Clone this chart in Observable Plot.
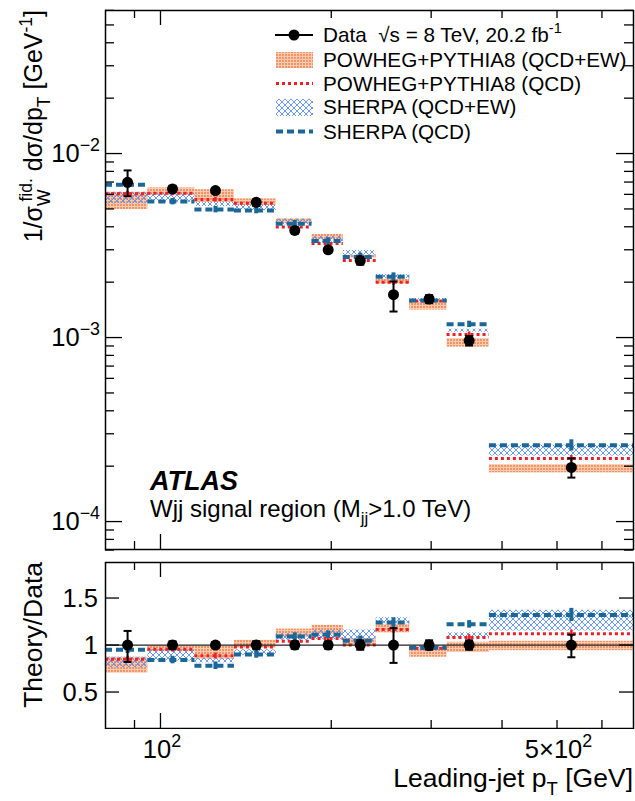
<!DOCTYPE html>
<html><head><meta charset="utf-8">
<script src="https://cdn.jsdelivr.net/npm/d3@7"></script>
<script src="https://cdn.jsdelivr.net/npm/@observablehq/plot@0.6"></script>
<style>
body{margin:0;background:#fff;}
#wrap{position:relative;width:635px;height:801px;font-family:"Liberation Sans",Arial,Helvetica,sans-serif;overflow:hidden;}
#wrap > svg{position:absolute;left:0;}
text{white-space:pre;}
</style></head><body><div id="wrap"></div>
<script>
// ---------- data ----------
const binLo     = [80, 95, 115, 135, 160, 185, 210, 240, 275, 320, 380];
const binHi     = [95, 115, 135, 160, 185, 210, 240, 275, 320, 380, 682];
const binCenter = [87.5, 105, 125, 147.5, 172.5, 197.5, 225, 257.5, 297.5, 350, 530];

// upper panel: 1/sigma dsigma/dpT [GeV^-1]
const dataVal    = [6.98e-3, 6.42e-3, 6.29e-3, 5.43e-3, 3.82e-3, 3.00e-3, 2.62e-3, 1.71e-3, 1.62e-3, 9.63e-4, 1.97e-4];
const dataErrUp  = [0.16, 0.04, 0.03, 0.04, 0.04, 0.04, 0.05, 0.18, 0.05, 0.06, 0.12];
const dataErrDn  = [0.16, 0.04, 0.03, 0.04, 0.04, 0.04, 0.05, 0.19, 0.05, 0.06, 0.12];
const powhegEwLo = [4.96e-3, 5.91e-3, 5.43e-3, 5.22e-3, 4.16e-3, 3.40e-3, 2.70e-3, 1.96e-3, 1.41e-3, 8.87e-4, 1.84e-4];
const powhegEwHi = [6.16e-3, 6.51e-3, 6.36e-3, 5.67e-3, 4.42e-3, 3.63e-3, 2.80e-3, 2.07e-3, 1.56e-3, 9.87e-4, 2.04e-4];
const powhegQcd  = [6.05e-3, 6.09e-3, 5.62e-3, 5.37e-3, 3.99e-3, 3.24e-3, 2.62e-3, 2.00e-3, 1.58e-3, 1.04e-3, 2.20e-4];
const powhegQcdErr = [0.03, 0.03, 0.03, 0.03, 0.03, 0.03, 0.03, 0.04, 0.03, 0.03, 0.04];
const sherpaEwLo = [5.33e-3, 5.43e-3, 5.15e-3, 4.90e-3, 4.10e-3, 3.30e-3, 2.80e-3, 2.09e-3, 1.56e-3, 1.07e-3, 2.27e-4];
const sherpaEwHi = [6.16e-3, 6.09e-3, 5.43e-3, 5.22e-3, 4.40e-3, 3.55e-3, 2.97e-3, 2.20e-3, 1.63e-3, 1.11e-3, 2.60e-4];
const sherpaQcd  = [6.76e-3, 5.48e-3, 4.96e-3, 4.90e-3, 4.16e-3, 3.35e-3, 2.74e-3, 2.14e-3, 1.59e-3, 1.18e-3, 2.60e-4];
const sherpaQcdErr = [0.04, 0.04, 0.04, 0.04, 0.04, 0.04, 0.05, 0.05, 0.04, 0.04, 0.07];

// lower panel: Theory/Data
const ratioDataUp     = [1.15, 1.04, 1.03, 1.04, 1.04, 1.04, 1.05, 1.18, 1.05, 1.05, 1.11];
const ratioDataDn     = [0.82, 0.96, 0.97, 0.96, 0.96, 0.96, 0.95, 0.81, 0.95, 0.95, 0.87];
const ratioPowhegEwLo = [0.70, 0.93, 0.85, 0.97, 1.08, 1.11, 1.00, 1.13, 0.87, 0.92, 0.94];
const ratioPowhegEwHi = [0.87, 0.99, 0.99, 1.05, 1.17, 1.21, 1.07, 1.22, 0.97, 1.03, 1.04];
const ratioPowhegQcd  = [0.85, 0.955, 0.885, 0.98, 1.04, 1.07, 1.00, 1.165, 0.965, 1.08, 1.12];
const ratioSherpaEwLo = [0.76, 0.83, 0.81, 0.89, 1.05, 1.06, 1.04, 1.23, 0.94, 1.07, 1.15];
const ratioSherpaEwHi = [0.87, 0.95, 0.86, 0.95, 1.12, 1.16, 1.16, 1.29, 0.99, 1.13, 1.37];
const ratioSherpaQcd  = [0.95, 0.84, 0.78, 0.90, 1.09, 1.11, 1.045, 1.24, 0.97, 1.22, 1.32];

// axis ticks / labels
const xTicksMajor = [100];
const xTicksMinor = [90, 200, 300, 400, 500, 600];
const xTickLabels = [{v: 100, parts: ["10", {sup: "2"}]}, {v: 500, parts: ["5×10", {sup: "2"}]}];
const yTicksUpperMajor = [1e-4, 1e-3, 1e-2];
const yTickLabelsUpper = [{v: 1e-2, parts: ["10", {sup: "−2"}]}, {v: 1e-3, parts: ["10", {sup: "−3"}]}, {v: 1e-4, parts: ["10", {sup: "−4"}]}];
const yTicksLower = [0.5, 1, 1.5];
const yTickLabelsLower = [{v: 1.5, t: "1.5"}, {v: 1, t: "1"}, {v: 0.5, t: "0.5"}];

const RED = "#f21d25", BLUE = "#1b6798";

// ---------- tables ----------
const rowsU = binLo.map((lo, i) => ({
  lo, hi: binHi[i], xc: binCenter[i],
  d: dataVal[i], dUp: dataVal[i] * (1 + dataErrUp[i]), dDn: dataVal[i] * (1 - dataErrDn[i]),
  pwLo: powhegEwLo[i], pwHi: powhegEwHi[i], pq: powhegQcd[i],
  pqUp: powhegQcd[i] * (1 + powhegQcdErr[i]), pqDn: powhegQcd[i] * (1 - powhegQcdErr[i]),
  shLo: sherpaEwLo[i], shHi: sherpaEwHi[i], sq: sherpaQcd[i],
  sqUp: sherpaQcd[i] * (1 + sherpaQcdErr[i]), sqDn: sherpaQcd[i] * (1 - sherpaQcdErr[i])
}));
const rowsL = binLo.map((lo, i) => ({
  lo, hi: binHi[i], xc: binCenter[i],
  d: 1, dUp: ratioDataUp[i], dDn: ratioDataDn[i],
  pwLo: ratioPowhegEwLo[i], pwHi: ratioPowhegEwHi[i], pq: ratioPowhegQcd[i],
  pqUp: ratioPowhegQcd[i] + powhegQcdErr[i], pqDn: ratioPowhegQcd[i] - powhegQcdErr[i],
  shLo: ratioSherpaEwLo[i], shHi: ratioSherpaEwHi[i], sq: ratioSherpaQcd[i],
  sqUp: ratioSherpaQcd[i] + sherpaQcdErr[i], sqDn: ratioSherpaQcd[i] - sherpaQcdErr[i]
}));

// minor log ticks for the upper y axis
const yTicksUpperMinor = [];
for (const dec of [1e-5, 1e-4, 1e-3, 1e-2]) for (let m = 2; m <= 9; m++) yTicksUpperMinor.push(m * dec);

const capSymbol = {draw(ctx) { ctx.moveTo(-4, 0); ctx.lineTo(4, 0); }};

function seriesMarks(rows) {
  return [
    Plot.rect(rows, {x1: "lo", x2: "hi", y1: "pwLo", y2: "pwHi", fill: "url(#orangePat)"}),
    Plot.rect(rows, {x1: "lo", x2: "hi", y1: "shLo", y2: "shHi", fill: "url(#hatchPat)"}),
    Plot.ruleY(rows, {y: "pq", x1: "lo", x2: "hi", stroke: RED, strokeWidth: 3, strokeDasharray: "3,3"}),
    Plot.ruleX(rows, {x: "xc", y1: "pqDn", y2: "pqUp", stroke: RED, strokeWidth: 2.5}),
    Plot.ruleY(rows, {y: "sq", x1: "lo", x2: "hi", stroke: BLUE, strokeWidth: 4, strokeDasharray: "7,4"}),
    Plot.ruleX(rows, {x: "xc", y1: "sqDn", y2: "sqUp", stroke: BLUE, strokeWidth: 4})
  ];
}
function dataMarks(rows) {
  return [
    Plot.ruleX(rows, {x: "xc", y1: "dDn", y2: "dUp", stroke: "black", strokeWidth: 2}),
    Plot.dot(rows, {x: "xc", y: "dUp", symbol: capSymbol, fill: "none", stroke: "black", strokeWidth: 2}),
    Plot.dot(rows, {x: "xc", y: "dDn", symbol: capSymbol, fill: "none", stroke: "black", strokeWidth: 2}),
    Plot.dot(rows, {x: "xc", y: "d", r: 5.5, fill: "black", stroke: "none"})
  ];
}
function xTickMarks(FH) {
  return [
    Plot.tickX(xTicksMajor, {x: d => d, insetTop: FH - 15, stroke: "black", strokeWidth: 1.3}),
    Plot.tickX(xTicksMajor, {x: d => d, insetBottom: FH - 15, stroke: "black", strokeWidth: 1.3}),
    Plot.tickX(xTicksMinor, {x: d => d, insetTop: FH - 8, stroke: "black", strokeWidth: 1.3}),
    Plot.tickX(xTicksMinor, {x: d => d, insetBottom: FH - 8, stroke: "black", strokeWidth: 1.3})
  ];
}

const W = 635, ML = 105, MR = 2;
const FW = W - ML - MR;
const HU = 556, MTU = 10, MBU = 7, FHU = HU - MTU - MBU;
const LTOP = 556, HL = 173, MTL = 6, MBL = 1, FHL = HL - MTL - MBL;

const upper = Plot.plot({
  width: W, height: HU, marginLeft: ML, marginRight: MR, marginTop: MTU, marginBottom: MBU,
  x: {type: "log", domain: [80, 682], axis: null},
  y: {type: "log", domain: [7.05e-5, 0.0599], axis: null},
  style: {background: "transparent"},
  marks: [
    ...seriesMarks(rowsU),
    ...dataMarks(rowsU),
    Plot.tickY(yTicksUpperMajor, {y: d => d, insetRight: FW - 17, stroke: "black", strokeWidth: 1.3}),
    Plot.tickY(yTicksUpperMajor, {y: d => d, insetLeft: FW - 17, stroke: "black", strokeWidth: 1.3}),
    Plot.tickY(yTicksUpperMinor, {y: d => d, insetRight: FW - 9, stroke: "black", strokeWidth: 1.3}),
    Plot.tickY(yTicksUpperMinor, {y: d => d, insetLeft: FW - 9, stroke: "black", strokeWidth: 1.3}),
    ...xTickMarks(FHU),
    Plot.frame({stroke: "black", strokeWidth: 1.5})
  ]
});
upper.style.top = "0px";

const lower = Plot.plot({
  width: W, height: HL, marginLeft: ML, marginRight: MR, marginTop: MTL, marginBottom: MBL,
  x: {type: "log", domain: [80, 682], axis: null},
  y: {domain: [0.112, 1.878], axis: null},
  style: {background: "transparent"},
  marks: [
    ...seriesMarks(rowsL),
    Plot.ruleY([1], {stroke: "#222", strokeWidth: 1.3}),
    ...dataMarks(rowsL),
    Plot.tickY(yTicksLower, {y: d => d, insetRight: FW - 14, stroke: "black", strokeWidth: 1.3}),
    Plot.tickY(yTicksLower, {y: d => d, insetLeft: FW - 14, stroke: "black", strokeWidth: 1.3}),
    ...xTickMarks(FHL),
    Plot.frame({stroke: "black", strokeWidth: 1.5})
  ]
});
lower.style.top = LTOP + "px";

const wrap = document.getElementById("wrap");
wrap.appendChild(upper);
wrap.appendChild(lower);

// ---------- overlay: patterns, legend, texts ----------
const NS = "http://www.w3.org/2000/svg";
function el(tag, attrs, parent) {
  const e = document.createElementNS(NS, tag);
  for (const k in attrs) e.setAttribute(k, attrs[k]);
  if (parent) parent.appendChild(e);
  return e;
}
const ov = el("svg", {width: W, height: 801, viewBox: `0 0 ${W} 801`});
ov.style.top = "0px";
ov.style.pointerEvents = "none";
wrap.appendChild(ov);

const defs = el("defs", {}, ov);
const op = el("pattern", {id: "orangePat", width: 3, height: 3, patternUnits: "userSpaceOnUse"}, defs);
el("rect", {width: 3, height: 3, fill: "#fbcbb1"}, op);
el("rect", {width: 2, height: 2, fill: "#f39467"}, op);
const hp = el("pattern", {id: "hatchPat", width: 6, height: 6, patternUnits: "userSpaceOnUse"}, defs);
el("path", {d: "M0,0L6,6M6,0L0,6M-1,5L1,7M5,-1L7,1", stroke: "#5b8ef2", "stroke-width": 0.9, fill: "none"}, hp);

function label(parts, {x, y, size = 25, anchor = "start", weight = "normal", italic = false, rotate = null}) {
  const t = el("text", {"font-size": size, "text-anchor": anchor, "font-weight": weight,
    "font-style": italic ? "italic" : "normal", fill: "#000"}, ov);
  if (rotate !== null) t.setAttribute("transform", `translate(${x},${y}) rotate(${rotate})`);
  else { t.setAttribute("x", x); t.setAttribute("y", y); }
  let cur = 0;
  for (const p of parts) {
    const o = typeof p === "string" ? {t: p} : p;
    const target = o.sup !== undefined ? -0.42 * size : o.sub !== undefined ? 0.3 * size : 0;
    const ts = el("tspan", {dy: target - cur}, t);
    if (o.sup !== undefined || o.sub !== undefined) ts.setAttribute("font-size", 0.7 * size);
    if (o.dx) ts.setAttribute("dx", o.dx);
    ts.textContent = o.t ?? o.sup ?? o.sub;
    cur = target;
  }
  return t;
}

function scaleFn(plot, name, fallback) {
  const s = plot.scale(name);
  return s.apply ? (v) => s.apply(v) : fallback.domain(s.domain).range(s.range);
}
const xU = scaleFn(upper, "x", d3.scaleLog());
const yU = scaleFn(upper, "y", d3.scaleLog());
const yL = scaleFn(lower, "y", d3.scaleLinear());

// tick labels
for (const l of yTickLabelsUpper) label(l.parts, {x: 100, y: yU(l.v) + 9, size: 25.5, anchor: "end"});
for (const l of yTickLabelsLower) label([l.t], {x: 98, y: LTOP + yL(l.v) + 9, size: 25.5, anchor: "end"});
for (const l of xTickLabels) label(l.parts, {x: xU(l.v) + 2, y: 758, size: 25.5, anchor: "middle"});

// axis titles
label(["1/σ", {sub: "W"}, {sup: "fid.", dx: -12}, " dσ/dp", {sub: "T"}, " [GeV", {sup: "-1"}, "]"],
      {x: 42, y: 10, size: 25, anchor: "end", rotate: -90});
label(["Theory/Data"], {x: 42, y: LTOP + MTL, size: 26.5, anchor: "end", rotate: -90});
label(["Leading-jet p", {sub: "T"}, " [GeV]"], {x: 633, y: 787, size: 26.5, anchor: "end"});

// ATLAS labels
label(["ATLAS"], {x: 150, y: 490, size: 27, weight: "bold", italic: true});
label(["Wjj signal region (M", {sub: "jj"}, ">1.0 TeV)"], {x: 150, y: 517, size: 24});

// legend
const legY = [35, 60, 83.5, 107, 131.5];
el("line", {x1: 275, x2: 313, y1: legY[0], y2: legY[0], stroke: "black", "stroke-width": 2}, ov);
el("circle", {cx: 294, cy: legY[0], r: 5.5, fill: "black"}, ov);
el("rect", {x: 276, y: legY[1] - 8, width: 37, height: 16, fill: "url(#orangePat)"}, ov);
el("line", {x1: 276, x2: 313, y1: legY[2], y2: legY[2], stroke: RED, "stroke-width": 3, "stroke-dasharray": "3,3"}, ov);
el("rect", {x: 276, y: legY[3] - 8, width: 37, height: 17, fill: "url(#hatchPat)"}, ov);
el("line", {x1: 276, x2: 313, y1: legY[4], y2: legY[4], stroke: BLUE, "stroke-width": 4, "stroke-dasharray": "7,4"}, ov);
const legText = [
  ["Data  √s = 8 TeV, 20.2 fb", {sup: "-1"}],
  ["POWHEG+PYTHIA8 (QCD+EW)"],
  ["POWHEG+PYTHIA8 (QCD)"],
  ["SHERPA (QCD+EW)"],
  ["SHERPA (QCD)"]
];
legText.forEach((p, i) => label(p, {x: 323, y: legY[i] + 7, size: 20.7}));
</script></body></html>
